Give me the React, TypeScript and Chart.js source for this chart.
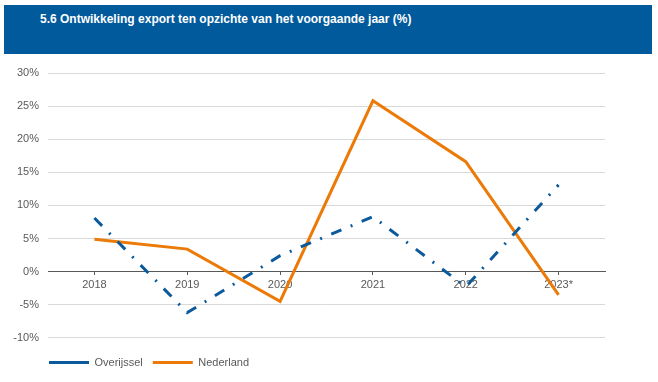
import React, { useEffect, useRef } from "react";
import { Chart, registerables } from "chart.js";

Chart.register(...registerables);

const title = "5.6 Ontwikkeling export ten opzichte van het voorgaande jaar (%)";
const categories = ["2018", "2019", "2020", "2021", "2022", "2023*"];
const overijssel = [8.1, -6.2, 2.4, 8.3, -2.3, 13.1];
const nederland = [4.9, 3.4, -4.5, 25.8, 16.6, -3.5];
const yMin = -10;
const yMax = 30;
const yStep = 5;

const FONT = "'Liberation Sans', Arial, sans-serif";

const shiftLegend = {
  id: "shiftLegend",
  afterLayout(chart: any) {
    const lg = chart.legend;
    if (lg) {
      lg.left = 39;
    }
  },
};

export default function App() {
  const ref = useRef<HTMLCanvasElement | null>(null);
  useEffect(() => {
    document.body.style.margin = "0";
    const ctx = ref.current!;
    const chart = new Chart(ctx, {
      type: "line",
      data: {
        labels: categories,
        datasets: [
          {
            label: "Overijssel",
            data: overijssel,
            borderColor: "#0A5A9C",
            backgroundColor: "#0A5A9C",
            borderWidth: 3,
            borderDash: [11, 10, 2, 10],
            pointRadius: 0,
            tension: 0,
          },
          {
            label: "Nederland",
            data: nederland,
            borderColor: "#EC7A08",
            backgroundColor: "#EC7A08",
            borderWidth: 3,
            pointRadius: 0,
            tension: 0,
          },
        ],
      },
      plugins: [shiftLegend],
      options: {
        animation: false,
        responsive: false,
        maintainAspectRatio: false,
        layout: { padding: { left: 0, right: 53, top: 18, bottom: 4 } },
        plugins: {
          tooltip: { enabled: false },
          legend: {
            position: "bottom",
            align: "start",
            title: {
              display: true,
              text: " ",
              font: { size: 1 },
              padding: { top: 4, bottom: 4 },
            },
            labels: {
              usePointStyle: true,
              pointStyle: "line",
              pointStyleWidth: 40,
              color: "#595959",
              font: { family: FONT, size: 11 },
              padding: 10,
            },
          },
        },
        scales: {
          x: {
            position: { y: 0 } as any,
            offset: true,
            grid: {
              display: true,
              drawOnChartArea: false,
              drawTicks: true,
              tickLength: 3,
              color: "#595959",
            },
            border: { display: true, color: "#595959", width: 1 },
            ticks: {
              color: "#595959",
              font: { family: FONT, size: 11 },
              padding: 4,
              maxRotation: 0,
            },
          },
          y: {
            min: yMin,
            max: yMax,
            afterFit: (s: any) => {
              s.width = 48;
            },
            grid: { color: "#D9D9D9", drawTicks: false, lineWidth: 1 },
            border: { display: false },
            ticks: {
              stepSize: yStep,
              padding: 9,
              color: "#595959",
              font: { family: FONT, size: 11 },
              callback: (v: any) => v + "%",
            },
          },
        },
      },
    });
    return () => chart.destroy();
  }, []);
  return (
    <div style={{ position: "relative", width: 658, height: 382, background: "#fff" }}>
      <div
        style={{
          position: "absolute",
          left: 4,
          top: 5,
          width: 648,
          height: 49,
          background: "#015A9C",
        }}
      >
        <div
          style={{
            position: "absolute",
            left: 36,
            top: 7,
            color: "#fff",
            fontFamily: FONT,
            fontWeight: "bold",
            fontSize: 12,
            whiteSpace: "nowrap",
          }}
        >
          {title}
        </div>
      </div>
      <canvas
        ref={ref}
        width={658}
        height={327}
        style={{ position: "absolute", left: 0, top: 55, width: 658, height: 327 }}
      />
    </div>
  );
}
